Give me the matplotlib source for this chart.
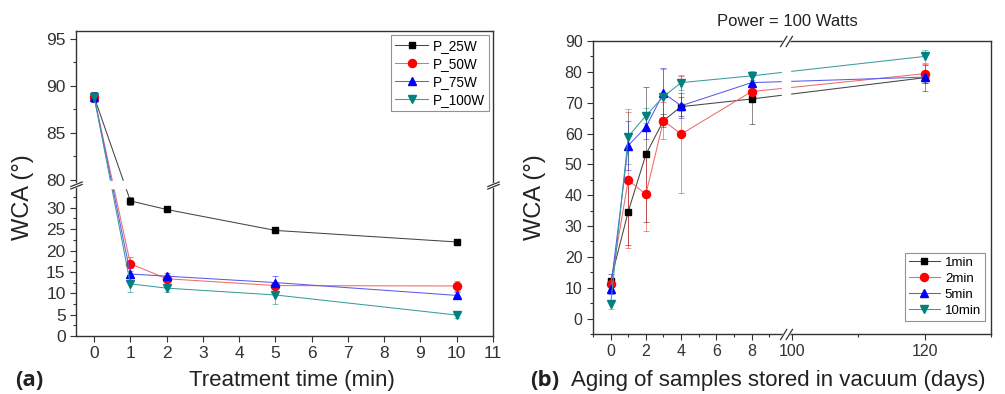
import numpy as np
import matplotlib
matplotlib.use("Agg")
import matplotlib.pyplot as plt
from matplotlib.path import Path
from matplotlib.ticker import FixedLocator

plt.rcParams['font.family'] = ['Liberation Sans', 'DejaVu Sans']

# ---- data (a): WCA vs treatment time ----
time_a = [0, 1, 2, 5, 10]
wca_25 = [88.8, 31.6, 29.6, 24.7, 22.0]
err_25 = [0.5, 1.0, 0.6, 0.4, 0.6]
wca_50 = [88.8, 16.9, 13.4, 11.8, 11.7]
err_50 = [0.5, 1.6, 0.8, 0.8, 1.2]
wca_75 = [88.8, 14.5, 14.0, 12.5, 9.5]
err_75 = [0.5, 1.5, 0.8, 1.5, 0.8]
wca_100 = [88.8, 12.2, 11.2, 9.6, 4.9]
err_100 = [0.5, 2.0, 0.8, 2.0, 0.6]
labels_a = ['P_25W', 'P_50W', 'P_75W', 'P_100W']

# ---- data (b): aging in vacuum, power = 100 W ----
days = [0, 1, 2, 3, 4, 8, 120]
wca_1min = [12.3, 34.7, 53.2, 64.2, 68.7, 71.2, 78.1]
err_1min = [2.0, 11.0, 22.0, 2.0, 3.0, 8.0, 4.2]
wca_2min = [11.2, 44.9, 40.3, 64.2, 59.8, 73.6, 79.4]
err_2min = [1.5, 22.0, 12.0, 6.0, 19.0, 2.0, 3.0]
wca_5min = [9.6, 56.1, 62.1, 73.1, 69.0, 76.5, 78.3]
err_5min = [1.5, 8.0, 4.0, 8.0, 4.0, 2.0, 2.0]
wca_10min = [4.6, 59.0, 65.8, 72.0, 76.5, 78.7, 85.0]
err_10min = [1.5, 9.0, 2.5, 9.0, 2.5, 1.5, 2.0]
labels_b = ['1min', '2min', '5min', '10min']

colors = ['#000000', '#ff0000', '#0000ff', '#008080']
line_cols = ['#454545', '#ef6a6a', '#5a5af0', '#3a9c9c']
markers = ['s', 'o', '^', 'v']
msizes = [5, 5.8, 6.3, 6.3]
frame_col = '#333333'

# piecewise linear "broken" scales (lines stay straight across the break)
ya_pts = [-100, 34.6, 79.8, 300]
fa_pts = [-100, 34.6, 36.16, 36.16 + (300 - 79.8) * 2.2]
xb_pts = [-100, 9.7, 99.8, 400]
fb_pts = [-100, 9.7, 10.2, 10.2 + (400 - 99.8) * 0.377]

def fwd_a(v): return np.interp(v, ya_pts, fa_pts)
def inv_a(v): return np.interp(v, fa_pts, ya_pts)
def fwd_b(v): return np.interp(v, xb_pts, fb_pts)
def inv_b(v): return np.interp(v, fb_pts, xb_pts)

# break mark shapes
slash_h = Path([(-1, -0.6), (1, 0.2), (-1, -0.2), (1, 0.6)],
               [Path.MOVETO, Path.LINETO, Path.MOVETO, Path.LINETO])
fill_h = Path([(-1, -0.6), (1, 0.2), (1, 0.6), (-1, -0.2), (-1, -0.6)])
slash_v = Path([(-1, -0.9), (0.1, 0.9), (-0.1, -0.9), (1, 0.9)],
               [Path.MOVETO, Path.LINETO, Path.MOVETO, Path.LINETO])
fill_v = Path([(-1, -0.9), (0.1, 0.9), (1, 0.9), (-0.1, -0.9), (-1, -0.9)])

def break_mark(ax, x, y, trans, slash, fill, size):
    ax.plot([x], [y], marker=fill, ms=size, mfc='white', mec='white', mew=1.5,
            ls='none', transform=trans, clip_on=False, zorder=6)
    ax.plot([x], [y], marker=slash, ms=size, mfc='none', mec=frame_col, mew=0.9,
            ls='none', transform=trans, clip_on=False, zorder=7)

def style_axes(ax, fs):
    for s in ax.spines.values():
        s.set_color(frame_col)
        s.set_linewidth(1.0)
    ax.tick_params(which='both', direction='out', colors=frame_col,
                   labelsize=fs, top=False, right=False)
    ax.tick_params(which='major', length=4, width=0.8)
    ax.tick_params(which='minor', length=2.5, width=0.8)

fig = plt.figure(figsize=(10.05, 3.94), dpi=100)

# ------------------- panel (a) -------------------
ax1 = fig.add_axes([76/1005, 1-336/394, (493-76)/1005, (336-31)/394])
ax1.set_yscale('function', functions=(fwd_a, inv_a))
series_a = [(wca_25, err_25), (wca_50, err_50), (wca_75, err_75), (wca_100, err_100)]
for (vals, errs), c, lc, m, ms, lab in zip(series_a, colors, line_cols, markers,
                                           msizes, labels_a):
    ax1.errorbar(time_a, vals, yerr=errs, fmt='none', ecolor=c, elinewidth=0.7,
                 capsize=2.5, capthick=0.7, alpha=0.5, zorder=2)
    ax1.plot(time_a, vals, color=lc, lw=0.75, marker=m, ms=ms, mfc=c, mec=c,
             label=lab, zorder=2.1)
ax1.axhspan(34.6, 79.8, color='white', zorder=2.3)
ax1.set_xlim(-0.5, 11)
ax1.set_ylim(0, 95.8)
ax1.xaxis.set_major_locator(FixedLocator(range(0, 12)))
ax1.yaxis.set_major_locator(FixedLocator([0, 5, 10, 15, 20, 25, 30, 80, 85, 90, 95]))
ax1.yaxis.set_minor_locator(FixedLocator([2.5, 7.5, 12.5, 17.5, 22.5, 27.5, 32.5,
                                          82.5, 87.5, 92.5]))
ax1.xaxis.set_minor_locator(FixedLocator([]))
style_axes(ax1, 12.5)
leg1 = ax1.legend(loc='upper right', fontsize=9.8, frameon=True, fancybox=False,
                  edgecolor='#777777', borderaxespad=0.3, labelspacing=0.28,
                  handlelength=2.4, handletextpad=0.35, borderpad=0.3)
leg1.get_frame().set_linewidth(0.8)
ymid = inv_a((34.6 + 36.16) / 2)
tr1 = ax1.get_yaxis_transform()
break_mark(ax1, 0, ymid, tr1, slash_h, fill_h, 9)
break_mark(ax1, 1, ymid, tr1, slash_h, fill_h, 9)

# ------------------- panel (b) -------------------
ax2 = fig.add_axes([593/1005, 1-334/394, (991-593)/1005, (334-41)/394])
ax2.set_xscale('function', functions=(fwd_b, inv_b))
series_b = [(wca_1min, err_1min), (wca_2min, err_2min),
            (wca_5min, err_5min), (wca_10min, err_10min)]
for (vals, errs), c, lc, m, ms, lab in zip(series_b, colors, line_cols, markers,
                                           msizes, labels_b):
    ax2.errorbar(days, vals, yerr=errs, fmt='none', ecolor=c, elinewidth=0.7,
                 capsize=2.5, capthick=0.7, alpha=0.45, zorder=2)
    ax2.plot(days, vals, color=lc, lw=0.75, marker=m, ms=ms, mfc=c, mec=c,
             label=lab, zorder=2.1)
ax2.axvspan(9.7, 99.8, color='white', zorder=2.3)
ax2.set_xlim(-1, 130)
ax2.set_ylim(-5, 90)
ax2.xaxis.set_major_locator(FixedLocator([0, 2, 4, 6, 8, 100, 120]))
ax2.xaxis.set_minor_locator(FixedLocator([-1, 1, 3, 5, 7, 9, 110, 130]))
ax2.yaxis.set_major_locator(FixedLocator(range(0, 91, 10)))
ax2.yaxis.set_minor_locator(FixedLocator(range(-5, 90, 10)))
style_axes(ax2, 11.5)
leg2 = ax2.legend(loc='lower right', bbox_to_anchor=(0.985, 0.045), fontsize=9.5,
                  frameon=True, fancybox=False, edgecolor='#777777',
                  borderaxespad=0, labelspacing=0.28, handlelength=2.4,
                  handletextpad=0.35, borderpad=0.3)
leg2.get_frame().set_linewidth(0.8)
xmid = inv_b((9.7 + 10.2) / 2)
tr2 = ax2.get_xaxis_transform()
break_mark(ax2, xmid, 0, tr2, slash_v, fill_v, 9)
break_mark(ax2, xmid, 1, tr2, slash_v, fill_v, 9)

# ------------------- texts -------------------
fig.text(23/1005, 1-197/394, 'WCA (°)', rotation=90, ha='center', va='center',
         fontsize=17, color='#222222')
fig.text(535/1005, 1-197/394, 'WCA (°)', rotation=90, ha='center', va='center',
         fontsize=17, color='#222222')
fig.text(292/1005, 8/394, 'Treatment time (min)', ha='center', va='baseline',
         fontsize=16, color='#222222')
fig.text(15/1005, 8/394, '(a)', ha='left', va='baseline', fontsize=16,
         fontweight='bold', family=['Open Sans', 'DejaVu Sans'], color='#222222')
fig.text(530/1005, 8/394, '(b)', ha='left', va='baseline', fontsize=16,
         fontweight='bold', family=['Open Sans', 'DejaVu Sans'], color='#222222')
fig.text(571/1005, 8/394, 'Aging of samples stored in vacuum (days)', ha='left',
         va='baseline', fontsize=16, color='#222222')
fig.text(787/1005, 1-22/394, 'Power = 100 Watts', ha='center', va='center',
         fontsize=12, color='#222222')

fig.savefig('out.png', dpi=100)
